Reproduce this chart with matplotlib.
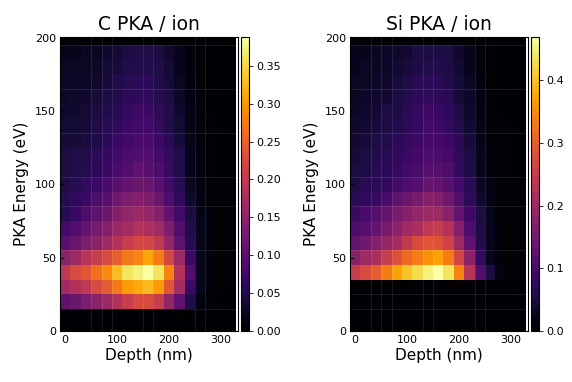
import numpy as np
import matplotlib
matplotlib.use("Agg")
import matplotlib.pyplot as plt

# bin centres
depth = np.arange(0, 321, 20)      # nm, 17 columns
energy = np.arange(0, 201, 10)     # eV, 21 rows

z17 = [0.0] * 17

# C PKA per ion, rows from 0 eV up to 200 eV
c_pka = [
    z17,
    z17,
    [0.105, 0.116, 0.132, 0.144, 0.163, 0.186, 0.206, 0.225, 0.225, 0.206, 0.155, 0.105, 0.047, 0.012, 0.004, 0.002, 0.001],
    [0.167, 0.182, 0.198, 0.225, 0.244, 0.272, 0.303, 0.314, 0.326, 0.303, 0.237, 0.171, 0.074, 0.019, 0.008, 0.004, 0.002],
    [0.198, 0.225, 0.237, 0.264, 0.287, 0.326, 0.361, 0.372, 0.388, 0.361, 0.283, 0.186, 0.093, 0.019, 0.008, 0.004, 0.002],
    [0.144, 0.163, 0.19, 0.206, 0.225, 0.248, 0.272, 0.283, 0.31, 0.275, 0.221, 0.163, 0.07, 0.019, 0.008, 0.004, 0.002],
    [0.097, 0.113, 0.132, 0.147, 0.167, 0.186, 0.206, 0.221, 0.217, 0.198, 0.155, 0.105, 0.054, 0.019, 0.008, 0.004, 0.002],
    [0.081, 0.093, 0.109, 0.128, 0.14, 0.163, 0.171, 0.186, 0.178, 0.167, 0.132, 0.093, 0.047, 0.019, 0.008, 0.004, 0.002],
    [0.054, 0.07, 0.089, 0.105, 0.116, 0.14, 0.155, 0.163, 0.155, 0.14, 0.105, 0.078, 0.043, 0.016, 0.008, 0.004, 0.002],
    [0.054, 0.062, 0.07, 0.089, 0.097, 0.12, 0.132, 0.14, 0.132, 0.116, 0.089, 0.062, 0.031, 0.014, 0.006, 0.004, 0.002],
    [0.047, 0.054, 0.066, 0.07, 0.085, 0.097, 0.109, 0.116, 0.113, 0.101, 0.078, 0.054, 0.023, 0.012, 0.006, 0.004, 0.002],
    [0.043, 0.047, 0.054, 0.062, 0.07, 0.085, 0.093, 0.105, 0.097, 0.089, 0.07, 0.05, 0.019, 0.01, 0.004, 0.002, 0.001],
    [0.043, 0.047, 0.05, 0.058, 0.066, 0.078, 0.089, 0.093, 0.093, 0.081, 0.066, 0.047, 0.019, 0.008, 0.004, 0.002, 0.001],
    [0.039, 0.039, 0.043, 0.05, 0.058, 0.07, 0.078, 0.085, 0.085, 0.074, 0.058, 0.039, 0.017, 0.008, 0.004, 0.002, 0.001],
    [0.035, 0.035, 0.039, 0.047, 0.054, 0.062, 0.07, 0.078, 0.078, 0.066, 0.05, 0.035, 0.016, 0.008, 0.004, 0.002, 0.001],
    [0.031, 0.031, 0.035, 0.043, 0.05, 0.054, 0.066, 0.074, 0.07, 0.062, 0.047, 0.031, 0.014, 0.006, 0.003, 0.002, 0.001],
    [0.027, 0.031, 0.031, 0.039, 0.043, 0.05, 0.058, 0.062, 0.062, 0.054, 0.043, 0.027, 0.012, 0.006, 0.003, 0.002, 0.001],
    [0.023, 0.027, 0.027, 0.031, 0.039, 0.047, 0.054, 0.058, 0.058, 0.05, 0.039, 0.023, 0.012, 0.004, 0.002, 0.001, 0.001],
    [0.023, 0.023, 0.023, 0.027, 0.035, 0.039, 0.047, 0.05, 0.05, 0.047, 0.035, 0.019, 0.01, 0.004, 0.002, 0.001, 0.001],
    [0.019, 0.019, 0.023, 0.023, 0.031, 0.035, 0.043, 0.047, 0.047, 0.043, 0.031, 0.019, 0.008, 0.004, 0.002, 0.001, 0.001],
    z17,
]

# Si PKA per ion
si_pka = [
    z17,
    z17,
    z17,
    z17,
    [0.249, 0.272, 0.295, 0.333, 0.371, 0.403, 0.427, 0.45, 0.469, 0.436, 0.342, 0.23, 0.113, 0.052, 0.014, 0.005, 0.002],
    [0.174, 0.202, 0.216, 0.249, 0.281, 0.314, 0.333, 0.356, 0.371, 0.333, 0.263, 0.178, 0.08, 0.023, 0.009, 0.005, 0.002],
    [0.131, 0.145, 0.169, 0.188, 0.206, 0.239, 0.272, 0.286, 0.281, 0.258, 0.197, 0.127, 0.061, 0.023, 0.009, 0.005, 0.002],
    [0.108, 0.117, 0.131, 0.155, 0.178, 0.202, 0.216, 0.239, 0.249, 0.225, 0.169, 0.108, 0.056, 0.023, 0.009, 0.005, 0.002],
    [0.084, 0.103, 0.117, 0.131, 0.155, 0.174, 0.188, 0.197, 0.197, 0.174, 0.131, 0.089, 0.052, 0.023, 0.009, 0.005, 0.002],
    [0.066, 0.075, 0.084, 0.103, 0.127, 0.141, 0.155, 0.169, 0.169, 0.145, 0.113, 0.075, 0.038, 0.019, 0.007, 0.005, 0.002],
    [0.056, 0.066, 0.07, 0.08, 0.098, 0.108, 0.117, 0.131, 0.131, 0.117, 0.094, 0.066, 0.028, 0.014, 0.007, 0.005, 0.002],
    [0.052, 0.056, 0.066, 0.07, 0.08, 0.094, 0.103, 0.117, 0.117, 0.108, 0.08, 0.056, 0.023, 0.012, 0.005, 0.002, 0.001],
    [0.047, 0.052, 0.061, 0.066, 0.075, 0.084, 0.098, 0.108, 0.108, 0.098, 0.075, 0.052, 0.023, 0.009, 0.005, 0.002, 0.001],
    [0.042, 0.047, 0.056, 0.061, 0.07, 0.08, 0.089, 0.098, 0.098, 0.089, 0.07, 0.047, 0.021, 0.009, 0.005, 0.002, 0.001],
    [0.038, 0.042, 0.047, 0.056, 0.061, 0.07, 0.084, 0.094, 0.089, 0.08, 0.061, 0.042, 0.019, 0.009, 0.005, 0.002, 0.001],
    [0.033, 0.038, 0.042, 0.052, 0.056, 0.066, 0.08, 0.089, 0.084, 0.075, 0.056, 0.038, 0.016, 0.007, 0.003, 0.002, 0.001],
    [0.028, 0.033, 0.038, 0.042, 0.052, 0.061, 0.07, 0.075, 0.075, 0.066, 0.047, 0.033, 0.014, 0.007, 0.003, 0.002, 0.001],
    [0.028, 0.028, 0.033, 0.038, 0.047, 0.056, 0.066, 0.07, 0.07, 0.061, 0.047, 0.028, 0.012, 0.005, 0.002, 0.001, 0.001],
    [0.023, 0.028, 0.028, 0.033, 0.042, 0.047, 0.056, 0.061, 0.061, 0.056, 0.042, 0.023, 0.009, 0.005, 0.002, 0.001, 0.001],
    [0.023, 0.023, 0.028, 0.033, 0.038, 0.042, 0.052, 0.056, 0.056, 0.052, 0.038, 0.023, 0.009, 0.005, 0.002, 0.001, 0.001],
    z17,
]

titles = ["C PKA / ion", "Si PKA / ion"]
cbar_ticks = [[0, 0.05, 0.1, 0.15, 0.2, 0.25, 0.3, 0.35], [0, 0.1, 0.2, 0.3, 0.4]]
cbar_fmt = ["%.2f", "%.1f"]

# faint rendering seams between some cells in the original
seam_x = [[50, 70, 90, 150, 170, 250, 270], [30, 50, 70, 130, 150, 230, 250]]
seam_y = [[15, 55, 85, 105, 135, 165, 195], [15, 25, 55, 85, 105, 135, 165, 195]]

W, H = 572, 382
fig = plt.figure(figsize=(W / 100, H / 100), dpi=100)

ax_boxes = [(60, 37, 238, 331), (350, 37, 528, 331)]
cb_boxes = [(241, 37, 249, 331), (531, 37, 539, 331)]

def fbox(b):
    x0, y0, x1, y1 = b
    return [x0 / W, 1 - y1 / H, (x1 - x0) / W, (y1 - y0) / H]

for i, data in enumerate([c_pka, si_pka]):
    z = np.array(data)
    ax = fig.add_axes(fbox(ax_boxes[i]))
    cax = fig.add_axes(fbox(cb_boxes[i]))
    mesh = ax.pcolormesh(depth, energy, z, cmap="inferno", shading="nearest",
                         vmin=0, vmax=z.max())
    for sx in seam_x[i]:
        ax.axvline(sx, color="white", alpha=0.1, lw=0.7)
    for sy in seam_y[i]:
        ax.axhline(sy, color="white", alpha=0.1, lw=0.7)
    ax.set_xlim(-10, 333)
    ax.set_ylim(0, 200.5)
    ax.set_xticks([0, 100, 200, 300])
    ax.set_yticks([0, 50, 100, 150, 200])
    ax.tick_params(direction="in", length=3, labelsize=8, color="k", pad=3)
    ax.set_xlabel("Depth (nm)", fontsize=11, labelpad=2)
    ax.set_ylabel("PKA Energy (eV)", fontsize=11, labelpad=4)
    ax.set_title(titles[i], fontsize=13.5, pad=5)
    for s in ax.spines.values():
        s.set_linewidth(0.8)

    cb = fig.colorbar(mesh, cax=cax, ticks=cbar_ticks[i], format=cbar_fmt[i])
    cb.outline.set_linewidth(0.8)
    cax.tick_params(labelsize=8, length=3, width=0.6, pad=2)

fig.savefig("out.png", dpi=100)
